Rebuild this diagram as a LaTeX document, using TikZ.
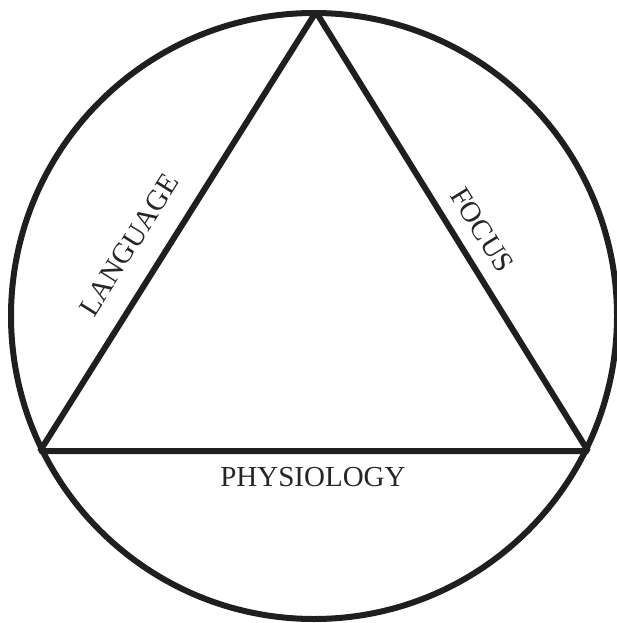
\documentclass[tikz,border=0pt]{standalone}
\usepackage{fontspec}
\setmainfont{Liberation Serif}
\usetikzlibrary{calc}

\begin{document}
\begin{tikzpicture}[x=1pt,y=-1pt,
  rim/.style={draw=black!88,line width=6pt},
  side/.style={draw=black!88,line width=6pt,line join=bevel},
  lbl/.style={font=\fontsize{29}{29}\selectfont,inner sep=0pt,text=black!85}]
\useasboundingbox (0,0) rectangle (616,623);
\coordinate (centre) at (314,316);
\coordinate (apex) at (316,12);
\coordinate (lv) at (40,451);
\coordinate (rv) at (588,451);
% outer circle
\draw[rim] (centre) circle[radius=303];
% triangle
\draw[side] (lv) -- (apex) -- (rv) -- cycle;
% labels on the sides
\node[lbl,rotate=57.8] (language) at (129,245) {LANGUAGE};
\node[lbl,rotate=-58.2] (focus) at (482,230) {FOCUS};
\node[lbl] (physiology) at (313,477.5) {PHYSIOLOGY};
\end{tikzpicture}
\end{document}
